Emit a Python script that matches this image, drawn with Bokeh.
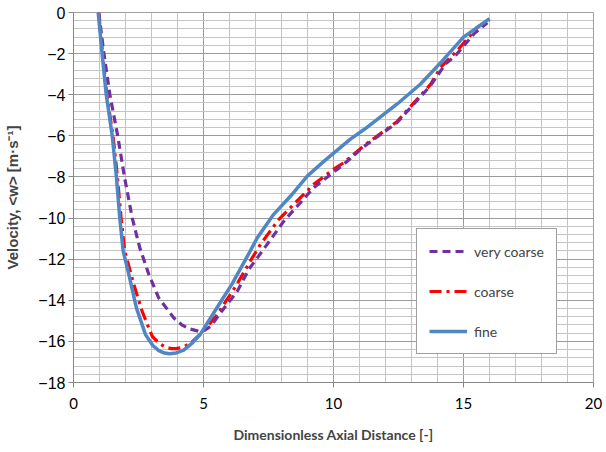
from bokeh.plotting import figure
from bokeh.models import Range1d, FixedTicker, Legend, LegendItem
from bokeh.embed import file_html
from bokeh.resources import INLINE

# ---- data ----
fine_x = [0.95, 1.1, 1.26, 1.49, 1.65, 1.78, 1.91, 2.13, 2.42, 2.77, 3.05, 3.28, 3.5, 3.7, 3.95, 4.24, 4.55, 4.88,
          5.5, 6.1, 6.8, 7.07, 7.7, 8.35, 9.0, 9.65, 10.65, 11.2, 12.45, 13.35, 14.15, 15.0, 16.0]
fine_y = [0.0, -2.0, -4.0, -6.0, -8.0, -10.0, -11.6, -12.75, -14.37, -15.67, -16.2, -16.45, -16.57, -16.6, -16.56, -16.42, -16.1, -15.65,
          -14.4, -13.2, -11.6, -10.96, -9.82, -8.93, -7.95, -7.22, -6.16, -5.67, -4.45, -3.48, -2.4, -1.2, -0.3]

coarse_x = [0.97, 1.12, 1.28, 1.52, 1.69, 1.83, 1.97, 2.32, 2.64, 3.03, 3.3, 3.54, 3.75, 3.95, 4.2, 4.5, 5.0,
            5.53, 5.78, 6.25, 6.75, 7.19, 7.9, 8.6, 9.24, 10.01, 10.4, 11.17, 12.45, 13.09, 13.73,
            14.12, 14.76, 15.53, 16.0]
coarse_y = [0.0, -2.0, -4.0, -6.0, -8.0, -10.0, -11.6, -13.23, -14.54, -15.76, -16.1, -16.28, -16.35, -16.35, -16.28, -16.1, -15.5,
            -14.7, -14.2, -13.3, -12.2, -11.28, -10.06, -9.17, -8.36, -7.62, -7.3, -6.48, -5.3, -4.4, -3.5,
            -2.67, -1.85, -0.72, -0.35]

vcoarse_x = [0.97, 1.17, 1.4, 1.7, 1.96, 2.26, 2.55, 2.9, 3.28, 3.86, 4.15, 4.43, 4.8, 5.05, 5.27, 5.78,
             6.3, 6.74, 7.07, 8.09, 9.24, 10.4, 11.17, 12.45, 13.09, 13.73, 14.31, 14.69, 15.4, 15.92]
vcoarse_y = [0.0, -2.0, -4.0, -6.0, -8.0, -10.0, -11.45, -12.75, -13.89, -14.86, -15.18, -15.38, -15.5, -15.45, -15.27, -14.4,
             -13.56, -12.5, -11.94, -10.15, -8.52, -7.38, -6.52, -5.35, -4.45, -3.56, -2.5, -2.1, -1.04, -0.5]

x_ticks = [0, 5, 10, 15, 20]
x_minor = list(range(0, 21))
y_ticks = [0, -2, -4, -6, -8, -10, -12, -14, -16, -18]
y_minor = [round(-18 + 0.4 * i, 2) for i in range(46)]

x_label = "Dimensionless Axial Distance [-]"
y_label = "Velocity, <w> [m\u00b7s\u207b\u00b9]"
names = ["very coarse", "coarse", "fine"]

p = figure(width=606, height=452, output_backend="svg", toolbar_location=None,
           x_range=Range1d(0, 20), y_range=Range1d(-18, 0),
           min_border_left=73, min_border_right=13, min_border_top=12, min_border_bottom=70,
           background_fill_color="white", border_fill_color="white")
p.outline_line_color = "#a0a0a0"

p.xaxis.ticker = FixedTicker(ticks=x_ticks, minor_ticks=x_minor)
p.yaxis.ticker = FixedTicker(ticks=y_ticks, minor_ticks=y_minor)

for g in (p.xgrid, p.ygrid):
    g.grid_line_color = "#9a9a9a"
    g.minor_grid_line_color = "#c4c4c4"
    g.grid_line_width = 1

for ax in (p.xaxis, p.yaxis):
    ax.axis_line_color = "#868686"
    ax.major_tick_line_color = "#868686"
    ax.minor_tick_out = 0
    ax.minor_tick_in = 0
    ax.major_tick_in = 0
    ax.major_tick_out = 5

p.xaxis.major_label_text_font = "Lato"
p.xaxis.major_label_text_font_size = "15px"
p.xaxis.major_label_text_color = "#000000"
p.xaxis.major_label_standoff = 10
p.yaxis.major_label_text_font = "Liberation Sans"
p.yaxis.major_label_text_font_size = "16px"
p.yaxis.major_label_text_color = "#000000"
p.yaxis.major_label_standoff = 3

p.xaxis.axis_label = x_label
p.xaxis.axis_label_text_font = "Lato"
p.xaxis.axis_label_text_font_style = "bold"
p.xaxis.axis_label_text_font_size = "14px"
p.xaxis.axis_label_standoff = 14
p.yaxis.axis_label = y_label
p.yaxis.axis_label_text_font = "Liberation Sans"
p.yaxis.axis_label_text_font_style = "bold"
p.yaxis.axis_label_text_font_size = "15px"
p.yaxis.axis_label_standoff = 14

r_coarse = p.line(coarse_x, coarse_y, line_color="#FF0000", line_width=3.2, line_dash="12 5 3 5")
r_vc = p.line(vcoarse_x, vcoarse_y, line_color="#7030A0", line_width=3.2, line_dash="8 5")
r_fine = p.line(fine_x, fine_y, line_color="#4F86C6", line_width=3.5)

legend = Legend(items=[LegendItem(label=names[0], renderers=[r_vc]),
                       LegendItem(label=names[1], renderers=[r_coarse]),
                       LegendItem(label=names[2], renderers=[r_fine])],
                location=(343, 28), orientation="vertical")
legend.border_line_color = "#404040"
legend.border_line_width = 1
legend.background_fill_color = "white"
legend.background_fill_alpha = 1
legend.label_text_font = "Lato"
legend.label_text_font_size = "14px"
legend.glyph_width = 38
legend.glyph_height = 20
legend.label_height = 20
legend.label_standoff = 7
legend.spacing = 20
legend.padding = 12
legend.margin = 0
p.add_layout(legend, "center")

open("out.html", "w").write(file_html(p, INLINE))
